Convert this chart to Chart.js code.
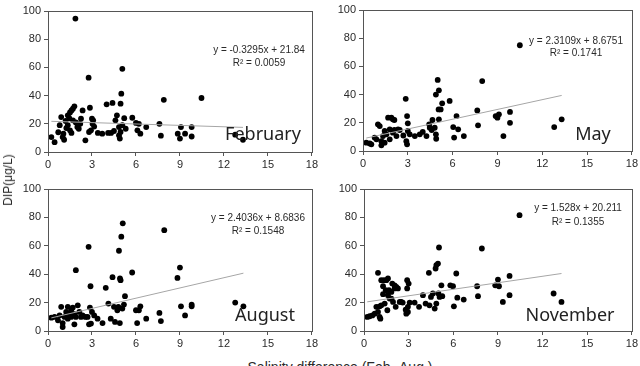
<!DOCTYPE html>
<html>
<head>
<meta charset="utf-8">
<script src="https://cdn.jsdelivr.net/npm/chart.js@4"></script>
<style>
  body { margin: 0; background: #fff; width: 640px; height: 366px; overflow: hidden; position: relative; font-family: "Liberation Sans", sans-serif; }
  .panel { position: absolute; }
  .txt { position: absolute; transform: translate(-50%, -50%); white-space: nowrap; color: #2a2a2a; }
  .eq { font-size: 10px; }
  .month { font-family: "Noto Sans", sans-serif; font-size: 18px; color: #222; }
</style>
</head>
<body>
<div class="panel" style="left:0;top:0"><canvas id="feb" width="320" height="172"></canvas></div>
<div class="panel" style="left:320px;top:0"><canvas id="may" width="320" height="172"></canvas></div>
<div class="panel" style="left:0;top:178px"><canvas id="aug" width="320" height="172"></canvas></div>
<div class="panel" style="left:320px;top:178px"><canvas id="nov" width="320" height="172"></canvas></div>

<div class="txt eq" style="left:259px;top:49px">y = -0.3295x + 21.84</div>
<div class="txt eq" style="left:259px;top:62px">R² = 0.0059</div>
<div class="txt eq" style="left:576px;top:40px">y = 2.3109x + 8.6751</div>
<div class="txt eq" style="left:576px;top:52px">R² = 0.1741</div>
<div class="txt eq" style="left:258px;top:217px">y = 2.4036x + 8.6836</div>
<div class="txt eq" style="left:258px;top:230px">R² = 0.1548</div>
<div class="txt eq" style="left:578px;top:207px">y = 1.528x + 20.211</div>
<div class="txt eq" style="left:578px;top:221px">R² = 0.1355</div>

<div class="txt month" style="left:263px;top:133px">February</div>
<div class="txt month" style="left:593px;top:133px">May</div>
<div class="txt month" style="left:265px;top:314px">August</div>
<div class="txt month" style="left:570px;top:314px">November</div>

<div class="txt" style="left:8px;top:180px;font-size:12px;transform:translate(-50%,-50%) rotate(-90deg)">DIP(μg/L)</div>
<div class="txt" style="left:340px;top:367px;font-size:14px">Salinity difference (Feb.-Aug.)</div>

<script>
// x ticks and y ticks shared by all four panels
const xTicks = [0, 3, 6, 9, 12, 15, 18];
const yTicks = [0, 20, 40, 60, 80, 100];

// February
const febX = [0.23,0.45,0.9,0.8,0.7,1.0,1.1,1.2,1.35,1.5,1.6,1.7,1.8,1.87,1.35,1.5,1.6,1.7,1.9,2.0,2.1,2.25,2.36,2.55,2.77,2.86,2.8,2.93,3.0,3.04,3.15,3.08,3.4,3.7,4.0,4.1,4.3,4.4,4.5,4.6,4.7,4.84,4.84,4.9,4.95,5.0,5.07,4.95,5.07,5.2,5.3,5.75,6.0,6.2,6.1,6.3,6.7,7.6,7.7,7.9,8.85,9.0,9.07,9.35,9.8,9.8,10.47,12.77,13.3,1.25,1.45,1.05,2.2];
const febY = [10.6,7,24.8,19,14,10.6,8.7,22,26,28,29.5,30.7,32.4,94.6,19,15.4,13.5,22.5,21,17.7,16.5,23.6,29.5,8.3,52.7,31.4,14.2,15.4,23.6,20,18,22.5,13.5,13,33.8,13.5,13.5,34.8,14.9,22.5,26,17.7,11.8,9.5,34.3,41.4,59,14.2,19,24,16.5,24.3,20.6,20,15.4,13,17.7,20,11.6,37,13,9.5,17.7,13,17.7,11,38.3,12.3,8.7,17,24,13,20];
const febLineX = [0.23, 13.3];
const febLineY = [21.76, 17.46];

// May
const mayX = [0.22,0.45,0.56,0.78,0.9,1.0,1.12,1.23,1.23,1.34,1.45,1.45,1.57,1.68,1.79,1.79,1.9,2.0,2.0,2.1,2.1,2.24,2.35,2.46,2.7,2.86,2.9,2.95,2.95,3.0,3.0,3.13,3.47,3.8,4.0,4.25,4.43,4.47,4.6,4.65,4.8,4.88,4.9,4.88,5.0,5.08,5.06,5.08,5.2,5.3,5.8,6.04,6.1,6.26,6.37,6.75,7.65,7.7,7.98,8.88,9.0,9.1,9.4,9.84,9.84,10.5,12.8,13.3];
const mayY = [5.9,5.4,4.7,9.5,8.3,18.9,17.7,7,4,10.6,14.2,5.9,11.8,23.6,15.4,8.3,23.6,22.5,13,22,14.9,10.6,15.4,14.9,11,37,7,4.7,24.8,19.6,14.2,11.8,10.6,11.8,13.5,10.6,18.9,16.5,14.9,22,16.5,11.8,8.7,40,50.4,43,29.5,22.5,29.5,33.8,35.5,17,9.5,24.8,15.4,10.6,28.8,18.2,49.6,24.8,23.6,26,10.6,27.7,20,75,17,22.5];
const mayLineX = [0.22, 13.3];
const mayLineY = [9.18, 39.41];

// August
const augX = [0.23,0.45,0.68,0.79,0.9,1.0,1.0,1.13,1.24,1.35,1.35,1.46,1.58,1.58,1.69,1.8,1.8,1.9,1.9,2.03,2.14,2.25,2.36,2.55,2.7,2.77,2.8,2.86,2.9,2.93,3.0,3.15,3.38,3.72,3.94,4.12,4.28,4.4,4.5,4.57,4.73,4.8,4.84,4.9,4.91,4.95,5.0,5.07,5.1,5.18,5.25,5.74,6.0,6.08,6.2,6.3,6.7,7.6,7.7,7.93,8.83,9.0,9.07,9.35,9.8,9.8,12.77,13.33];
const augY = [9.4,9.9,7.5,11,17,5.6,2.8,9.9,13.4,17,8.7,12.2,14.6,9.9,16.5,11.8,4.7,42.8,9.9,18.1,13.4,9.9,11,9.9,9.9,59.3,4.7,16.5,31.5,5.2,13.4,11,8.7,5.6,30.4,19.3,8.7,37.9,17,6.4,14.6,17,56.5,5.6,37,35.8,66.4,15.8,75.8,18.6,24.5,41.2,14.6,5.6,14.6,17.4,8.7,12.7,7,71,37.4,44.7,17.4,11,18.6,17.4,20,17.4];
const augLineX = [0.23, 13.33];
const augLineY = [9.24, 40.72];

// November
const novX = [0.22,0.38,0.56,0.72,0.83,0.94,0.94,1.05,1.05,1.1,1.16,1.16,1.28,1.28,1.34,1.39,1.46,1.5,1.57,1.61,1.61,1.68,1.72,1.84,1.84,1.9,1.95,2.06,2.06,2.13,2.17,2.28,2.4,2.5,2.6,2.8,2.84,2.9,2.9,2.95,2.95,3.0,3.07,3.4,3.7,3.96,4.14,4.36,4.4,4.5,4.63,4.75,4.81,4.86,4.86,4.97,5.0,5.04,5.08,5.2,5.26,5.8,5.98,6.04,6.2,6.27,6.7,7.6,7.66,7.92,8.82,9.0,9.07,9.33,9.78,9.78,10.45,12.74,13.27];
const novY = [9.9,10.4,11,12.2,17,41,13.4,17.4,9.9,8.7,35.8,18.1,31.5,25.9,35.8,19.3,28.7,35.8,14.6,37,25.2,28.7,22.8,27.5,22.8,33.4,20.5,32.2,30,17,31,30,20.5,20.5,20,15,12.2,30,35.8,17,13.4,33.4,20,20,17,25.2,19.3,41,18.1,24,26.4,15.8,44,19.3,46.4,47.5,26.4,58.8,24,32.2,24.5,32.2,31.5,17.4,40.5,23.5,22.1,31.5,24.5,58.1,32.2,36.2,31.5,20.5,38.8,25.2,81.6,26.4,20.5];
const novLineX = [0.22, 13.27];
const novLineY = [20.55, 40.49];

const boxPlugin = {
  id: 'box',
  afterDraw(chart) {
    const a = chart.chartArea;
    const ctx = chart.ctx;
    ctx.save();
    ctx.strokeStyle = '#555';
    ctx.lineWidth = 1;
    ctx.strokeRect(Math.round(a.left) + 0.5, Math.round(a.top) + 0.5, Math.round(a.right - a.left), Math.round(a.bottom - a.top));
    ctx.restore();
  }
};

function pts(xs, ys) {
  return xs.map((x, i) => ({ x: x, y: ys[i] }));
}

// area = chart area inside the 320x172 canvas
function makePanel(id, xs, ys, lx, ly, area) {
  const ctx = document.getElementById(id).getContext('2d');
  new Chart(ctx, {
    type: 'scatter',
    data: {
      datasets: [
        {
          type: 'line',
          data: pts(lx, ly),
          borderColor: '#a6a6a6',
          borderWidth: 1,
          pointRadius: 0,
          fill: false
        },
        {
          data: pts(xs, ys),
          backgroundColor: '#000',
          borderWidth: 0,
          pointRadius: 2.9
        }
      ]
    },
    options: {
      responsive: false,
      animation: false,
      layout: { padding: { left: 0, top: area.t, right: 320 - area.r, bottom: 0 } },
      plugins: { legend: { display: false }, tooltip: { enabled: false } },
      scales: {
        x: {
          type: 'linear', min: 0, max: 18,
          afterBuildTicks: s => { s.ticks = xTicks.map(v => ({ value: v })); },
          afterFit: s => { s.height = 172 - area.b; },
          grid: { drawOnChartArea: false, drawTicks: true, tickLength: 4, color: '#555' },
          border: { color: '#555' },
          ticks: { color: '#2a2a2a', font: { family: 'Liberation Sans', size: 11 }, padding: 2, maxRotation: 0 }
        },
        y: {
          type: 'linear', min: 0, max: 100,
          afterBuildTicks: s => { s.ticks = yTicks.map(v => ({ value: v })); },
          afterFit: s => { s.width = area.l; },
          grid: { drawOnChartArea: false, drawTicks: true, tickLength: 4, color: '#555' },
          border: { color: '#555' },
          ticks: { color: '#2a2a2a', font: { family: 'Liberation Sans', size: 11 }, padding: 3 }
        }
      }
    },
    plugins: [boxPlugin]
  });
}

makePanel('feb', febX, febY, febLineX, febLineY, { l: 48, t: 11, r: 315, b: 152 });
makePanel('may', mayX, mayY, mayLineX, mayLineY, { l: 43, t: 10, r: 312, b: 151 });
makePanel('aug', augX, augY, augLineX, augLineY, { l: 48, t: 11, r: 315, b: 153 });
makePanel('nov', novX, novY, novLineX, novLineY, { l: 44, t: 11, r: 312, b: 153 });
</script>
</body>
</html>
